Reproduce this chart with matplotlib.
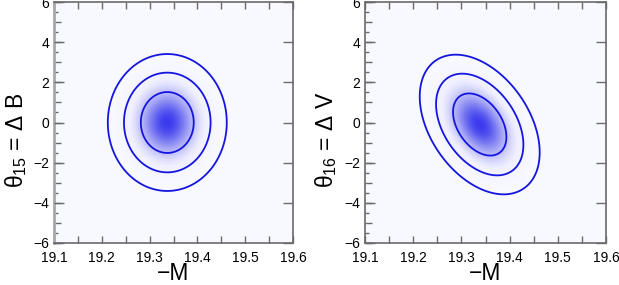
import numpy as np
import matplotlib
matplotlib.use("Agg")
import matplotlib.pyplot as plt
from matplotlib.colors import LinearSegmentedColormap
from matplotlib.ticker import MultipleLocator, FuncFormatter, NullLocator

plt.rcParams['font.family'] = ['Liberation Sans', 'DejaVu Sans']
plt.rcParams['mathtext.fontset'] = 'custom'
plt.rcParams['mathtext.rm'] = 'Liberation Sans'
plt.rcParams['mathtext.it'] = 'Liberation Sans'

# Posterior summaries
panel_labels = ["\u03b8$_{15}$ = \u0394 B", "\u03b8$_{16}$ = \u0394 V"]
center_x = [19.337, 19.338]
center_y = [0.0, -0.1]
sigma_x = [0.0365, 0.0365]
sigma_y = [1.0, 1.02]
rho = [0.0, -0.4]
cred_levels = [0.997, 0.954, 0.683]
x_range = [19.1, 19.6]
y_range = [-6, 6]
x_ticks = [19.1, 19.2, 19.3, 19.4, 19.5, 19.6]

cmap = LinearSegmentedColormap.from_list(
    "bl", [(0.0, "#f8f8ff"), (0.1, "#eeeefe"), (0.32, "#bcbcf8"), (0.65, "#7c7cf2"), (1.0, "#3a3aee")])

fig = plt.figure(figsize=(6.19, 2.85), dpi=100)
rects = [[54/619, 42/285, 239/619, 241/285], [365/619, 42/285, 241/619, 241/285]]
label_x = [-0.105, -0.108]
gray = "#6a6a6a"


def yfmt(v, pos):
    iv = int(round(v))
    if iv % 2:
        return ""
    return ("\u2212%d" % -iv) if iv < 0 else "%d" % iv


for i in range(2):
    ax = fig.add_axes(rects[i])
    ax.set_facecolor("#f8f8ff")
    xs = np.linspace(x_range[0], x_range[1], 400)
    ys = np.linspace(y_range[0], y_range[1], 400)
    X, Y = np.meshgrid(xs, ys)
    u = (X - center_x[i]) / sigma_x[i]
    v = (Y - center_y[i]) / sigma_y[i]
    r = rho[i]
    q = (u**2 - 2*r*u*v + v**2) / (1 - r**2)
    Z = np.exp(-0.5 * q)
    ax.pcolormesh(X, Y, Z, cmap=cmap, vmin=0, vmax=1, shading="auto", rasterized=True)
    lv = [np.exp(-0.5 * (-2*np.log(1 - p))) for p in cred_levels]
    ax.contour(X, Y, Z, levels=sorted(lv), colors="#1515e0", linewidths=1.3)
    ax.set_xlim(*x_range)
    ax.set_ylim(*y_range)
    ax.set_xticks(x_ticks)
    ax.set_xticklabels(["%.1f" % t for t in x_ticks])
    ax.xaxis.set_minor_locator(MultipleLocator(0.05))
    ax.yaxis.set_major_locator(MultipleLocator(1))
    ax.yaxis.set_major_formatter(FuncFormatter(yfmt))
    ax.yaxis.set_minor_locator(MultipleLocator(0.5))
    ax.tick_params(which="both", direction="in", top=True, right=True, colors=gray,
                   labelcolor="black", labelsize=10)
    ax.tick_params(axis="x", which="both", length=4.8, width=1, pad=5.5)
    ax.tick_params(axis="y", which="major", length=4.8, width=1, pad=3.5)
    ax.tick_params(axis="y", which="minor", length=3.1, width=1)
    for s in ax.spines.values():
        s.set_color(gray)
        s.set_linewidth(1.2)
    if i == 0:
        ax.spines["left"].set_color("#a8a8a8")
        ax.spines["left"].set_linewidth(2)
    ax.set_xlabel("\u2212M", fontsize=16.5, labelpad=-2)
    ax.set_ylabel(panel_labels[i], fontsize=16.5)
    ax.yaxis.set_label_coords(label_x[i], 0.427)

    # longer ticks at every second unit
    tw = ax.twinx()
    tw.set_ylim(*y_range)
    tw.yaxis.set_major_locator(MultipleLocator(2))
    tw.yaxis.set_minor_locator(NullLocator())
    tw.tick_params(axis="y", direction="in", left=True, right=True, labelleft=False,
                   labelright=False, length=7.2, width=1, colors=gray)
    for s in tw.spines.values():
        s.set_visible(False)

fig.savefig("out.png", dpi=100)
